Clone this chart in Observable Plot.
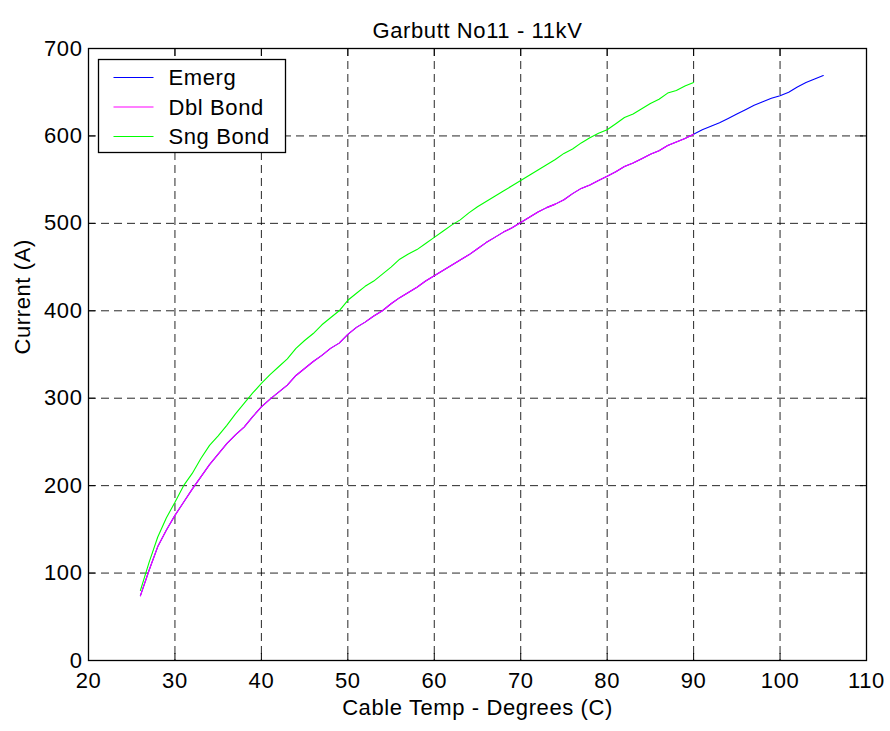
<!DOCTYPE html>
<html>
<head>
<meta charset="utf-8">
<script src="https://cdn.jsdelivr.net/npm/d3@7"></script>
<script src="https://cdn.jsdelivr.net/npm/@observablehq/plot@0.6"></script>
<style>
  html, body { margin: 0; padding: 0; background: #fff; }
  #chart { position: relative; width: 890px; height: 731px; }
  #chart svg text { letter-spacing: 0.6px; }
</style>
</head>
<body>
<div id="chart"></div>
<script>
// ---- data ----
const tempsLong = [26,27,28,29,30,31,32,33,34,35,36,37,38,39,40,41,42,43,44,45,46,47,48,49,50,51,52,53,54,55,56,57,58,59,60,61,62,63,64,65,66,67,68,69,70,71,72,73,74,75,76,77,78,79,80,81,82,83,84,85,86,87,88,89,90,91,92,93,94,95,96,97,98,99,100,101,102,103,104,105];
const emerg = [74,103,130,149,166,181,196,210,224,236,248,258,267,279,290,299,307,315,326,334,342,349,357,363,373,381,387,394,400,408,415,421,427,434,440,446,452,458,464,471,478,484,490,495,501,507,513,518,522,527,534,540,544,549,554,559,565,569,574,579,583,589,593,597,602,607,611,615,620,625,630,635,639,643,646,650,656,661,665,669];
const tempsShort = [26,27,28,29,30,31,32,33,34,35,36,37,38,39,40,41,42,43,44,45,46,47,48,49,50,51,52,53,54,55,56,57,58,59,60,61,62,63,64,65,66,67,68,69,70,71,72,73,74,75,76,77,78,79,80,81,82,83,84,85,86,87,88,89,90];
const dblBond = [74,103,130,149,166,181,196,210,224,236,248,258,267,279,290,299,307,315,326,334,342,349,357,363,373,381,387,394,400,408,415,421,427,434,440,446,452,458,464,471,478,484,490,495,501,507,513,518,522,527,534,540,544,549,554,559,565,569,574,579,583,589,593,597,602];
const sngBond = [80,112,141,163,181,200,214,231,246,257,269,282,294,306,317,327,336,345,357,366,374,384,392,400,412,420,428,434,442,450,459,465,470,477,484,491,498,504,512,519,525,531,537,543,549,555,561,567,573,580,585,592,598,603,607,614,621,625,631,637,642,649,652,657,661];
const seriesNames = ["Emerg", "Dbl Bond", "Sng Bond"];
const seriesColors = ["#0000ff", "#ff00ff", "#00ff00"];
const xTicks = [20,30,40,50,60,70,80,90,100,110];
const yTicks = [0,100,200,300,400,500,600,700];
const titleText = "Garbutt No11 - 11kV";
const xLabel = "Cable Temp - Degrees (C)";
const yLabel = "Current (A)";

const mk = (ts, vs) => ts.map((t, i) => ({t, v: vs[i]}));
const emergData = mk(tempsLong, emerg);
const dblData = mk(tempsShort, dblBond);
const sngData = mk(tempsShort, sngBond);

const FONT = "'Liberation Sans', Arial, Helvetica, sans-serif";
const FS = 22;
const dash = "8,5";

const chart = Plot.plot({
  width: 890,
  height: 731,
  marginLeft: 88,
  marginRight: 24,
  marginTop: 48,
  marginBottom: 71,
  style: {fontFamily: FONT, fontSize: FS + "px", background: "#fff", color: "#000"},
  x: {domain: [20, 110], label: null},
  y: {domain: [0, 700], label: null},
  marks: [
    Plot.gridX(xTicks, {stroke: "#000", strokeOpacity: 0.85, strokeDasharray: dash}),
    Plot.gridY(yTicks, {stroke: "#000", strokeOpacity: 0.85, strokeDasharray: dash}),
    Plot.line(emergData, {x: "t", y: "v", stroke: seriesColors[0], strokeWidth: 1.1}),
    Plot.line(dblData, {x: "t", y: "v", stroke: seriesColors[1], strokeWidth: 1.1}),
    Plot.line(sngData, {x: "t", y: "v", stroke: seriesColors[2], strokeWidth: 1.1}),
    Plot.frame({stroke: "#000", strokeWidth: 1.3}),
    // labels
    Plot.axisX(xTicks, {anchor: "bottom", tickSize: 0, tickPadding: 12, label: null, fill: "#000"}),
    Plot.axisY(yTicks, {anchor: "left", tickSize: 0, tickPadding: 6, label: null, fill: "#000"}),
    // inward ticks on all four sides
    Plot.axisX(xTicks, {anchor: "bottom", tickSize: 7, dy: -7, tickFormat: () => "", label: null, stroke: "#000"}),
    Plot.axisX(xTicks, {anchor: "top", tickSize: 7, dy: 7, tickFormat: () => "", label: null, stroke: "#000"}),
    Plot.axisY(yTicks, {anchor: "left", tickSize: 7, dx: 7, tickFormat: () => "", label: null, stroke: "#000"}),
    Plot.axisY(yTicks, {anchor: "right", tickSize: 7, dx: -7, tickFormat: () => "", label: null, stroke: "#000"}),
    // title & axis titles
    Plot.text([titleText], {frameAnchor: "top", dy: -26, fontSize: FS, fill: "#000"}),
    Plot.text([xLabel], {frameAnchor: "bottom", dy: 54, fontSize: FS, fill: "#000"}),
    Plot.text([yLabel], {frameAnchor: "left", dx: -66, rotate: -90, fontSize: FS, fill: "#000"})
  ]
});

// legend inside the SVG
const svg = d3.select(chart);
const lg = svg.append("g").attr("transform", "translate(98.5,59.5)");
lg.append("rect").attr("width", 187).attr("height", 93)
  .attr("fill", "#fff").attr("stroke", "#000").attr("stroke-width", 1.3);
seriesNames.forEach((name, i) => {
  const yy = 18 + i * 29.5;
  lg.append("line").attr("x1", 15).attr("x2", 55).attr("y1", yy).attr("y2", yy)
    .attr("stroke", seriesColors[i]).attr("stroke-width", 1.1);
  lg.append("text").attr("x", 70).attr("y", yy).attr("dy", "0.35em")
    .attr("text-anchor", "start")
    .attr("font-family", FONT).attr("font-size", FS).attr("fill", "#000").text(name);
});

document.getElementById("chart").appendChild(chart);
</script>
</body>
</html>
